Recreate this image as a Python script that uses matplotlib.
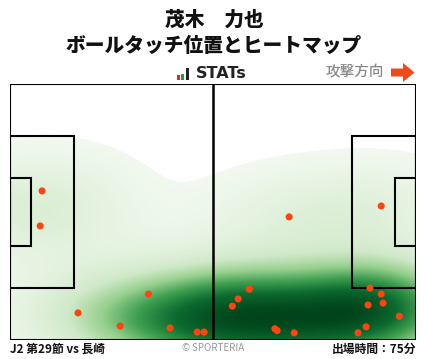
import numpy as np
import matplotlib
matplotlib.use("Agg")
import matplotlib.pyplot as plt
from matplotlib.colors import LinearSegmentedColormap
from matplotlib.patches import Rectangle, Polygon

# Data: touch positions (pitch metres, x: 0-105 attacking right, y: 0-68 from top)
touch_x = [8.3, 7.8, 35.8, 17.6, 28.5, 41.4, 48.4, 50.2, 72.2, 96.0, 61.9, 59.0,
           57.5, 68.5, 69.1, 73.5, 93.1, 96.0, 96.5, 92.6, 100.7, 92.1, 90.0]
touch_y = [28.4, 37.7, 55.8, 60.8, 64.3, 64.8, 65.9, 65.9, 35.3, 32.4, 54.5, 57.1,
           59.0, 65.0, 65.5, 66.1, 54.2, 55.8, 58.2, 58.7, 61.7, 64.5, 66.1]

title_name = "茂木\u3000力也"
title_sub = "ボールタッチ位置とヒートマップ"
footer_left = "J2 第29節 vs 長崎"
footer_right = "出場時間：75分"
credit = "© SPORTERIA"
direction = "攻撃方向"

plt.rcParams['font.family'] = ['Noto Sans CJK JP', 'DejaVu Sans']

W, H = 428, 359
fig = plt.figure(figsize=(W / 100, H / 100), dpi=100)
fig.patch.set_facecolor('white')

def fx(px):
    return px / W

def fy(py):
    return 1 - py / H

# pitch axes
L, T, R, B = 10, 84, 416, 340
ax = fig.add_axes([fx(L), fy(B), (R - L) / W, (B - T) / H])
ax.set_xlim(0, 105)
ax.set_ylim(68, 0)
ax.axis('off')

# KDE heatmap
xs = np.array(touch_x)
ys = np.array(touch_y)
gx = np.linspace(0, 105, 420)
gy = np.linspace(0, 68, 272)
GX, GY = np.meshgrid(gx, gy)
bx, by = 16.0, 8.5
D = np.zeros_like(GX)
for x0, y0 in zip(xs, ys):
    D += np.exp(-0.5 * (((GX - x0) / bx) ** 2 + ((GY - y0) / by) ** 2))
D /= D.max()
thr = 0.03
cmap = LinearSegmentedColormap.from_list(
    'g', ['#f2f9f0', '#e3f2de', '#d0e9c9', '#97d08e', '#3f9f50', '#0c6b2f', '#00441b'])
img = cmap(np.clip((D - thr) / (1 - thr), 0, 1) ** 0.9)
img[D < thr] = [1, 1, 1, 1]
ax.imshow(img, extent=(0, 105, 68, 0), origin='upper', aspect='auto',
          interpolation='bilinear', zorder=1)

lw = 1.5
kw = dict(fill=False, edgecolor='black', linewidth=lw, zorder=3)
ax.add_patch(Rectangle((0, 0), 105, 68, **kw))
ax.plot([52.5, 52.5], [0, 68], color='black', lw=1.8, zorder=3)
pb_top = (68 - 40.32) / 2
ga_top = (68 - 18.32) / 2
ax.add_patch(Rectangle((0, pb_top), 16.5, 40.32, **kw))
ax.add_patch(Rectangle((0, ga_top), 5.5, 18.32, **kw))
ax.add_patch(Rectangle((105 - 16.5, pb_top), 16.5, 40.32, **kw))
ax.add_patch(Rectangle((105 - 5.5, ga_top), 5.5, 18.32, **kw))

ax.scatter(xs, ys, s=26, color='#ff4412', edgecolors='none', zorder=4, clip_on=False)

# titles
fig.text(fx(214), fy(20), title_name, ha='center', va='center', fontsize=14.2,
         fontweight='heavy', color='#111111')
fig.text(fx(214), fy(46), title_sub, ha='center', va='center', fontsize=14.2,
         fontweight='heavy', color='#111111')

# STATs logo
iax = fig.add_axes([fx(177), fy(80), 13 / W, 13 / H])
iax.set_xlim(0, 13)
iax.set_ylim(0, 13)
iax.axis('off')
iax.bar([1.5, 5.5, 10.5], [5, 6, 12], width=[3, 3, 3.5],
        color=['#e02828', '#2a9a3a', '#222222'], align='center')
fig.text(fx(196), fy(73.5), "STATs", ha='left', va='center', fontsize=11.5,
         fontweight='bold', color='#222222', family=['DejaVu Sans'])

# direction
fig.text(fx(384), fy(72), direction, ha='right', va='center', fontsize=10.5,
         fontweight='medium', color='#888888')
aax = fig.add_axes([fx(390), fy(83), 26 / W, 21 / H])
aax.set_xlim(0, 26)
aax.set_ylim(0, 21)
aax.axis('off')
aax.add_patch(Polygon([[1, 6.5], [13, 6.5], [13, 1], [24.5, 10.5], [13, 20],
                       [13, 14.5], [1, 14.5]], closed=True, color='#f04a1a', lw=0))

# footer
fig.text(fx(10), fy(349), footer_left, ha='left', va='center', fontsize=8.5,
         fontweight='bold', color='#111111')
fig.text(fx(213), fy(348), credit, ha='center', va='center', fontsize=7,
         color='#999999')
fig.text(fx(416), fy(349), footer_right, ha='right', va='center', fontsize=8.5,
         fontweight='bold', color='#111111')

fig.savefig('out.png', dpi=100, facecolor='white')
